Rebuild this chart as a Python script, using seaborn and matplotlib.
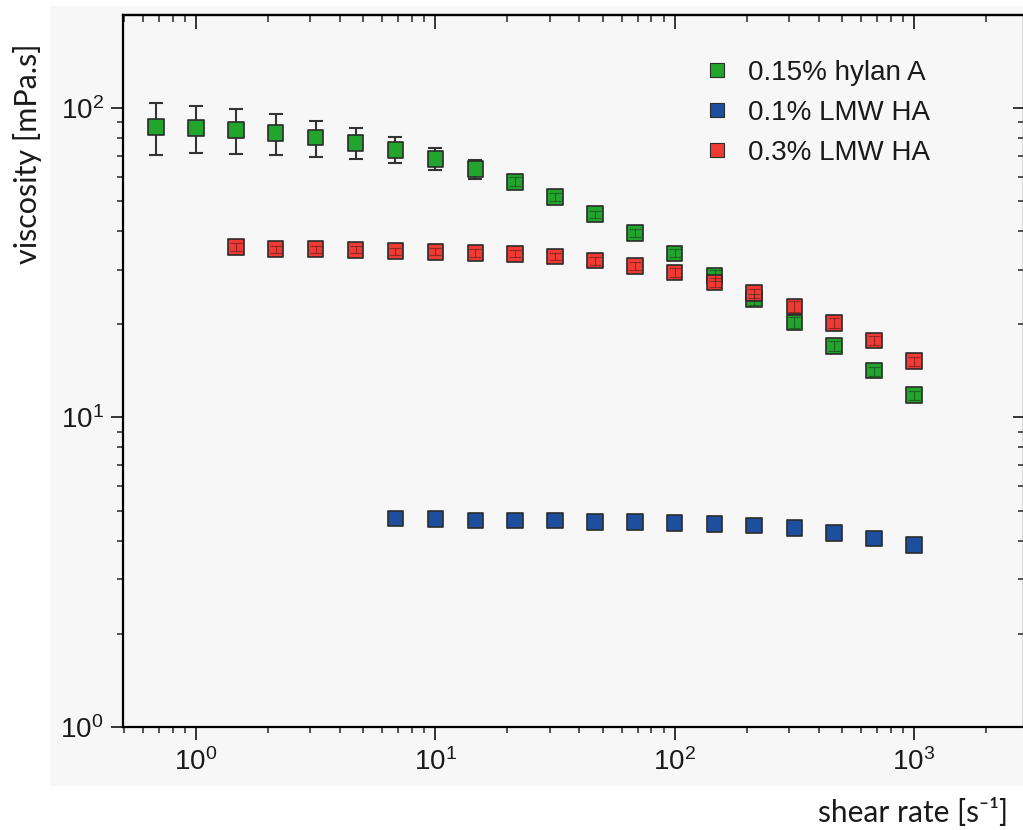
import matplotlib
matplotlib.use('Agg')
import matplotlib.pyplot as plt
import pandas as pd
import seaborn as sns
from matplotlib.lines import Line2D
from matplotlib.patches import Rectangle
from matplotlib.ticker import NullFormatter

# Shear rates (1/s) and viscosities (mPa.s)
shear_hylan = [0.681, 1.0, 1.47, 2.15, 3.16, 4.64, 6.81, 10, 14.7, 21.5,
               31.6, 46.4, 68.1, 100, 147, 215, 316, 464, 681, 1000]
visc_hylan = [86.9, 86.2, 84.9, 83.0, 80.4, 77.2, 73.2, 68.4, 63.4, 57.7,
              51.5, 45.4, 39.4, 33.9, 28.8, 24.1, 20.3, 17.0, 14.2, 11.8]
hylan_low = [70.5, 71.5, 71.0, 70.5, 69.6, 68.3, 66.3, 63.0, 58.8, 55.8,
             50.0, 44.2, 38.2, 32.9, 27.6, 23.1, 19.5, 16.4, 13.6, 11.4]
hylan_high = [103.8, 101.5, 99.3, 95.6, 91.0, 86.0, 80.4, 74.1, 67.9, 59.7,
              53.0, 46.6, 40.6, 34.9, 30.0, 25.0, 21.1, 17.6, 14.6, 12.2]

shear_lmw01 = [6.81, 10, 14.7, 21.5, 31.6, 46.4, 68.1, 100, 147, 215, 316, 464, 681, 1000]
visc_lmw01 = [4.72, 4.70, 4.64, 4.64, 4.64, 4.59, 4.59, 4.56, 4.52, 4.47, 4.39, 4.23, 4.07, 3.87]

shear_lmw03 = [1.47, 2.15, 3.16, 4.64, 6.81, 10, 14.7, 21.5, 31.6, 46.4,
               68.1, 100, 147, 215, 316, 464, 681, 1000]
visc_lmw03 = [35.6, 35.0, 35.0, 34.8, 34.5, 34.3, 34.0, 33.8, 33.1, 32.1,
              30.9, 29.4, 27.3, 25.2, 22.8, 20.2, 17.7, 15.2]
lmw03_low = [34.6, 34.1, 34.1, 33.9, 33.6, 33.4, 33.1, 32.9, 32.2, 31.2,
             30.0, 28.5, 26.4, 24.3, 21.9, 19.5, 17.1, 14.7]
lmw03_high = [36.6, 35.9, 35.9, 35.7, 35.4, 35.2, 34.9, 34.7, 34.0, 33.0,
              31.8, 30.3, 28.2, 26.1, 23.7, 20.9, 18.3, 15.7]

labels = ['0.15% hylan A', '0.1% LMW HA', '0.3% LMW HA']
colors = ['#22a52c', '#1d4f9e', '#ef3b33']
bg = '#f7f7f7'

df = pd.concat([
    pd.DataFrame({'shear': shear_hylan, 'visc': visc_hylan, 'sample': labels[0]}),
    pd.DataFrame({'shear': shear_lmw01, 'visc': visc_lmw01, 'sample': labels[1]}),
    pd.DataFrame({'shear': shear_lmw03, 'visc': visc_lmw03, 'sample': labels[2]}),
])

sns.set_style('ticks')
plt.rcParams['font.family'] = ['Liberation Sans', 'DejaVu Sans']
plt.rcParams['mathtext.default'] = 'regular'

fig = plt.figure(figsize=(10.23, 8.3), dpi=100)
fig.patch.set_facecolor('white')
# light grey panel behind the plot and tick labels
fig.patches.append(Rectangle((50 / 1023, 44 / 830), 1.0, 780 / 830, transform=fig.transFigure,
                             facecolor=bg, edgecolor='none', zorder=-10))

ax = fig.add_axes([123 / 1023, 103 / 830, 901 / 1023, 712 / 830])
ax.set_facecolor(bg)
ax.set_xscale('log')
ax.set_yscale('log')

# error bars (below the markers)
ax.errorbar(shear_hylan, visc_hylan,
            yerr=[[v - lo for v, lo in zip(visc_hylan, hylan_low)],
                  [hi - v for v, hi in zip(visc_hylan, hylan_high)]],
            fmt='none', ecolor='#333333', elinewidth=1.5, capsize=5, capthick=1.5, zorder=2)

sns.scatterplot(data=df, x='shear', y='visc', hue='sample', hue_order=labels,
                palette=colors, marker='s', s=125, edgecolor='#2b2b2b', linewidth=1.2,
                legend=False, zorder=3, ax=ax)

# small error bars that sit inside the markers
ax.errorbar(shear_hylan[9:], visc_hylan[9:],
            yerr=[[v - lo for v, lo in zip(visc_hylan[9:], hylan_low[9:])],
                  [hi - v for v, hi in zip(visc_hylan[9:], hylan_high[9:])]],
            fmt='none', ecolor='#1c3a1c', elinewidth=0.8, capsize=4, capthick=0.8, alpha=0.6, zorder=4)
ax.errorbar(shear_lmw03, visc_lmw03,
            yerr=[[v - lo for v, lo in zip(visc_lmw03, lmw03_low)],
                  [hi - v for v, hi in zip(visc_lmw03, lmw03_high)]],
            fmt='none', ecolor='#5a1a1a', elinewidth=0.8, capsize=4, capthick=0.8, alpha=0.6, zorder=4)

ax.set_xlim(0.4955, 2881)
ax.set_ylim(1, 199.7)
ax.set_xlabel('')
ax.set_ylabel('')

for side in ['left', 'bottom', 'top', 'right']:
    ax.spines[side].set_linewidth(1.6)
    ax.spines[side].set_color('black')
ax.xaxis.set_minor_formatter(NullFormatter())
ax.yaxis.set_minor_formatter(NullFormatter())
ax.tick_params(which='major', direction='out', length=9, width=1.3, labelsize=20,
               labelcolor='#1a1a1a', top=False, right=False)
ax.tick_params(which='minor', direction='out', length=4.5, width=1.1, top=False, right=False)
ax.tick_params(axis='x', which='major', pad=6)
ax.tick_params(axis='y', which='major', pad=5)

# top and right ticks point inward
top = ax.secondary_xaxis('top')
top.tick_params(which='major', direction='in', length=10, width=1.3)
top.tick_params(which='minor', direction='in', length=5, width=1.1)
top.xaxis.set_major_formatter(NullFormatter())
top.xaxis.set_minor_formatter(NullFormatter())
top.spines['top'].set_linewidth(1.6)
right = ax.secondary_yaxis('right')
right.tick_params(which='major', direction='in', length=8, width=1.3)
right.tick_params(which='minor', direction='in', length=4, width=1.1)
right.yaxis.set_major_formatter(NullFormatter())
right.yaxis.set_minor_formatter(NullFormatter())

handles = [Line2D([], [], linestyle='none', marker='s', markersize=10, markerfacecolor=c,
                  markeredgecolor='#2b2b2b', markeredgewidth=0.8) for c in colors]
ax.legend(handles, labels, loc='upper left', bbox_to_anchor=(703 / 1023, 1 - 60 / 830),
          bbox_transform=fig.transFigure, frameon=False, fontsize=20, borderpad=0,
          handlelength=1.0, handletextpad=0.62, labelspacing=0.5, borderaxespad=0,
          labelcolor='#1a1a1a')

fig.text(28 / 1023, 1 - 154 / 830, 'viscosity [mPa.s]', rotation=90, ha='center', va='center',
         fontsize=22, family=['Lato', 'DejaVu Sans'], color='#1a1a1a')
fig.text(1008 / 1023, 1 - 812 / 830, 'shear rate [s⁻¹]', ha='right', va='center',
         fontsize=21.5, family=['Lato', 'DejaVu Sans'], color='#1a1a1a')

fig.savefig('out.png', dpi=100, facecolor='white')
